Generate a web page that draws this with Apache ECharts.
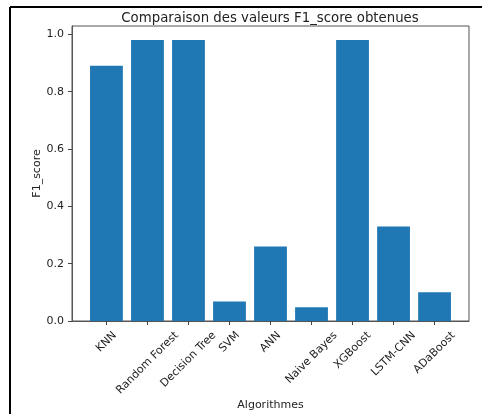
<!DOCTYPE html>
<html>
<head>
<meta charset="utf-8">
<script src="https://cdn.jsdelivr.net/npm/echarts@6/dist/echarts.min.js"></script>
<style>
html,body{margin:0;padding:0;background:#fff;}
#chart{width:482px;height:414px;}
</style>
</head>
<body>
<div id="chart"></div>
<script>
const categories = ['KNN', 'Random Forest', 'Decision Tree', 'SVM', 'ANN', 'Naive Bayes', 'XGBoost', 'LSTM-CNN', 'ADaBoost'];
const f1Scores = [0.89, 0.98, 0.98, 0.068, 0.26, 0.048, 0.98, 0.33, 0.10];
const yTicks = [0, 0.2, 0.4, 0.6, 0.8, 1.0];
const titleText = 'Comparaison des valeurs F1_score obtenues';
const xName = 'Algorithmes';
const yName = 'F1_score';

const FONT = 'DejaVu Sans';
const labelSize = 11;
const lineH = 13;

const xIdx = categories.map((c, i) => i);
const xMin = -0.84, xMax = categories.length - 1 + 0.84;
const gridL = 72, gridR = 13, gridT = 26, gridB = 93;
const plotW = 482 - gridL - gridR;
const barPx = 0.8 * plotW / (xMax - xMin);

const chart = echarts.init(document.getElementById('chart'), null, { renderer: 'canvas' });
chart.setOption({
  animation: false,
  backgroundColor: '#fff',
  title: {
    text: titleText,
    left: 265,
    textAlign: 'center',
    top: 7,
    textStyle: { fontFamily: FONT, fontSize: 13.3, fontWeight: 'normal', color: '#222' }
  },
  grid: { left: gridL, right: gridR, top: gridT, bottom: gridB, show: true, borderColor: '#555', borderWidth: 1, containLabel: false, outerBoundsMode: 'none' },
  xAxis: {
    type: 'value',
    min: xMin,
    max: xMax,
    name: xName,
    nameLocation: 'middle',
    nameGap: 79,
    nameMoveOverlap: false,
    nameTextStyle: { fontFamily: FONT, fontSize: 11, color: '#222' },
    axisLine: { show: true, onZero: false, lineStyle: { color: '#555', width: 1 } },
    axisTick: { show: true, length: 4, lineStyle: { color: '#444' }, customValues: xIdx },
    axisLabel: { show: false },
    splitLine: { show: false }
  },
  yAxis: {
    type: 'value',
    min: 0,
    max: 1.029,
    name: yName,
    nameLocation: 'middle',
    nameGap: 29,
    nameMoveOverlap: false,
    nameTextStyle: { fontFamily: FONT, fontSize: 11, color: '#222' },
    axisLine: { show: true, onZero: false, lineStyle: { color: '#555', width: 1 } },
    axisTick: { show: true, length: 4, lineStyle: { color: '#444' }, customValues: yTicks },
    axisLabel: {
      customValues: yTicks,
      margin: 8,
      fontFamily: FONT,
      fontSize: labelSize,
      color: '#222',
      formatter: v => v.toFixed(1)
    },
    splitLine: { show: false }
  },
  series: [{
    type: 'bar',
    data: categories.map((c, i) => [i, f1Scores[i]]),
    barWidth: barPx,
    itemStyle: { color: '#1f77b4' }
  }]
});

// Rotated category labels, placed like matplotlib (rotation 45, ha=center, va=top)
const ctx = document.createElement('canvas').getContext('2d');
ctx.font = labelSize + 'px "' + FONT + '"';
const axisY = chart.convertToPixel({ yAxisIndex: 0 }, 0);
const labelGraphics = categories.map((c, i) => {
  const px = chart.convertToPixel({ xAxisIndex: 0 }, i);
  const w = ctx.measureText(c).width;
  const d = (w + lineH) / (2 * Math.SQRT2);
  return {
    type: 'text',
    x: px,
    y: axisY + 8 + d,
    rotation: Math.PI / 4,
    style: { text: c, align: 'center', verticalAlign: 'middle', fontFamily: FONT, fontSize: labelSize, fill: '#222' },
    silent: true
  };
});
chart.setOption({
  graphic: [
    { type: 'line', shape: { x1: 10, y1: 7, x2: 10, y2: 414 }, style: { stroke: '#000', lineWidth: 2 } },
    { type: 'line', shape: { x1: 10, y1: 7, x2: 482, y2: 7 }, style: { stroke: '#000', lineWidth: 2 } }
  ].concat(labelGraphics)
});
</script>
</body>
</html>
